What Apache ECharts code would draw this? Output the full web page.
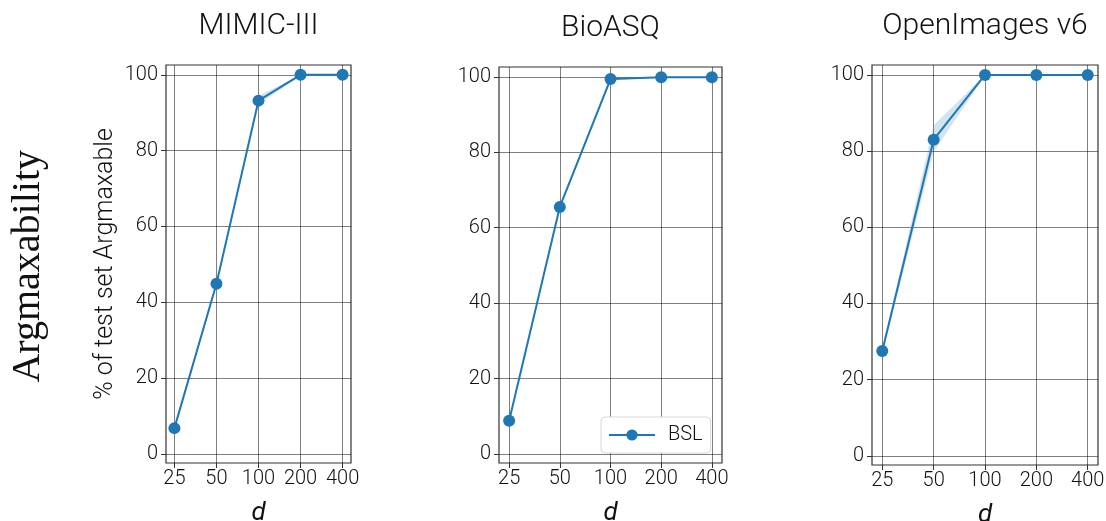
<!DOCTYPE html>
<html>
<head>
<meta charset="utf-8">
<script src="https://cdn.jsdelivr.net/npm/echarts@6/dist/echarts.min.js"></script>
<style>
  html, body { margin: 0; padding: 0; background: #fff; }
  #chart { width: 1106px; height: 521px; }
</style>
</head>
<body>
<div id="chart"></div>
<script>
// Embedding size d on the x axis (plotted at evenly spaced positions)
const dLabels = ['25', '50', '100', '200', '400'];
const yTicks = [0, 20, 40, 60, 80, 100];

const panelTitles = ['MIMIC-III', 'BioASQ', 'OpenImages v6'];

// Mean % of test set argmaxable, per dataset
const mimicMean = [6.8, 44.9, 93.2, 100, 100];
const bioasqMean = [8.8, 65.5, 99.4, 99.9, 99.9];
const openImagesMean = [27.5, 83.0, 100, 100, 100];

// Spread around the mean (lower / upper bounds)
const mimicLow = [6.3, 44.3, 92.2, 99.8, 100];
const mimicHigh = [7.3, 45.5, 94.4, 100, 100];
const bioasqLow = [8.5, 65.1, 99.1, 99.8, 99.8];
const bioasqHigh = [9.1, 66.0, 99.6, 100, 100];
const openImagesLow = [26.8, 79.8, 99.8, 100, 100];
const openImagesHigh = [28.2, 86.8, 100, 100, 100];

const means = [mimicMean, bioasqMean, openImagesMean];
const lows = [mimicLow, bioasqLow, openImagesLow];
const highs = [mimicHigh, bioasqHigh, openImagesHigh];

const BLUE = '#1f77b4';
const FONT = 'Roboto';

const grids = [
  { left: 166, top: 65, width: 185, height: 398 },
  { left: 499, top: 67, width: 223, height: 396 },
  { left: 872, top: 65, width: 226, height: 400 }
];

const xIdx = dLabels.map((_, i) => i);

const option = {
  animation: false,
  backgroundColor: '#fff',
  title: grids.map((g, i) => ({
    text: panelTitles[i],
    left: g.left + g.width / 2 - 5,
    top: g.top - 59,
    textAlign: 'center',
    textStyle: { fontFamily: FONT, fontWeight: 300, fontSize: 30, color: '#111' }
  })),
  grid: grids.map(g => Object.assign({
    show: true,
    outerBoundsMode: 'none',
    containLabel: false,
    borderColor: '#333',
    borderWidth: 1.2,
    backgroundColor: 'transparent'
  }, g)),
  legend: {
    data: ['BSL'],
    left: 601,
    top: 417,
    orient: 'horizontal',
    padding: [8, 8, 8, 7],
    itemWidth: 46,
    itemHeight: 14,
    itemGap: 10,
    borderColor: '#d6d6d6',
    borderWidth: 1,
    borderRadius: 4,
    backgroundColor: '#fff',
    textStyle: { fontFamily: FONT, fontWeight: 300, fontSize: 20, color: '#111', padding: [0, 0, 0, 8] }
  },
  xAxis: grids.map((g, i) => ({
    gridIndex: i,
    type: 'value',
    min: -0.2,
    max: 4.2,
    name: 'd',
    nameLocation: 'middle',
    nameGap: 37,
    nameTextStyle: { fontFamily: FONT, fontStyle: 'italic', fontSize: 26, color: '#111' },
    axisLine: { show: false, onZero: false },
    axisTick: { show: true, customValues: xIdx, length: 5, lineStyle: { color: '#333', width: 1 } },
    axisLabel: {
      customValues: xIdx,
      formatter: v => dLabels[Math.round(v)],
      margin: 6,
      fontFamily: FONT, fontWeight: 300, fontSize: 20, color: '#111'
    },
    splitLine: { show: true, lineStyle: { color: 'rgba(0,0,0,0.5)', width: 1 } }
  })),
  yAxis: grids.map((g, i) => ({
    gridIndex: i,
    type: 'value',
    min: -2.4,
    max: 102.6,
    name: i === 0 ? '% of test set Argmaxable' : '',
    nameLocation: 'middle',
    nameGap: 48,
    nameRotate: 90,
    nameTextStyle: { fontFamily: FONT, fontWeight: 300, fontSize: 25, color: '#111' },
    axisLine: { show: false, onZero: false },
    axisTick: { show: true, customValues: yTicks, length: 5, lineStyle: { color: '#333', width: 1 } },
    axisLabel: {
      customValues: yTicks,
      margin: 8,
      fontFamily: FONT, fontWeight: 300, fontSize: 20, color: '#111'
    },
    splitLine: { show: true, lineStyle: { color: 'rgba(0,0,0,0.5)', width: 1 } }
  })),
  graphic: [{
    type: 'text',
    left: 8,
    top: 150,
    rotation: Math.PI / 2,
    style: {
      text: 'Argmaxability',
      font: '40px "Liberation Serif", "DejaVu Serif", serif',
      fill: '#111'
    }
  }],
  series: []
};

// Shaded spread between the lower and upper bounds, drawn as one polygon per panel
function bandRenderer(low, high) {
  return function (params, api) {
    if (params.dataIndex !== 0) return null;
    const top = [];
    const bottom = [];
    for (let k = 0; k < low.length; k++) {
      top.push(api.coord([k, high[k]]));
      bottom.push(api.coord([k, low[k]]));
    }
    return {
      type: 'polygon',
      shape: { points: top.concat(bottom.reverse()) },
      style: { fill: BLUE, opacity: 0.2 },
      silent: true
    };
  };
}

for (let i = 0; i < 3; i++) {
  option.series.push({
    type: 'custom',
    name: 'spread' + i,
    xAxisIndex: i, yAxisIndex: i,
    data: xIdx.map(k => [k, lows[i][k], highs[i][k]]),
    encode: { x: 0, y: [1, 2] },
    renderItem: bandRenderer(lows[i], highs[i]),
    clip: true,
    z: 1
  });
  option.series.push({
    type: 'line',
    name: 'BSL',
    xAxisIndex: i, yAxisIndex: i,
    data: xIdx.map(k => [k, means[i][k]]),
    symbol: 'circle',
    symbolSize: 12,
    color: BLUE,
    lineStyle: { color: BLUE, width: 2 },
    itemStyle: { color: BLUE },
    z: 3
  });
}

const chart = echarts.init(document.getElementById('chart'), null, { renderer: 'canvas' });
chart.setOption(option);
</script>
</body>
</html>
